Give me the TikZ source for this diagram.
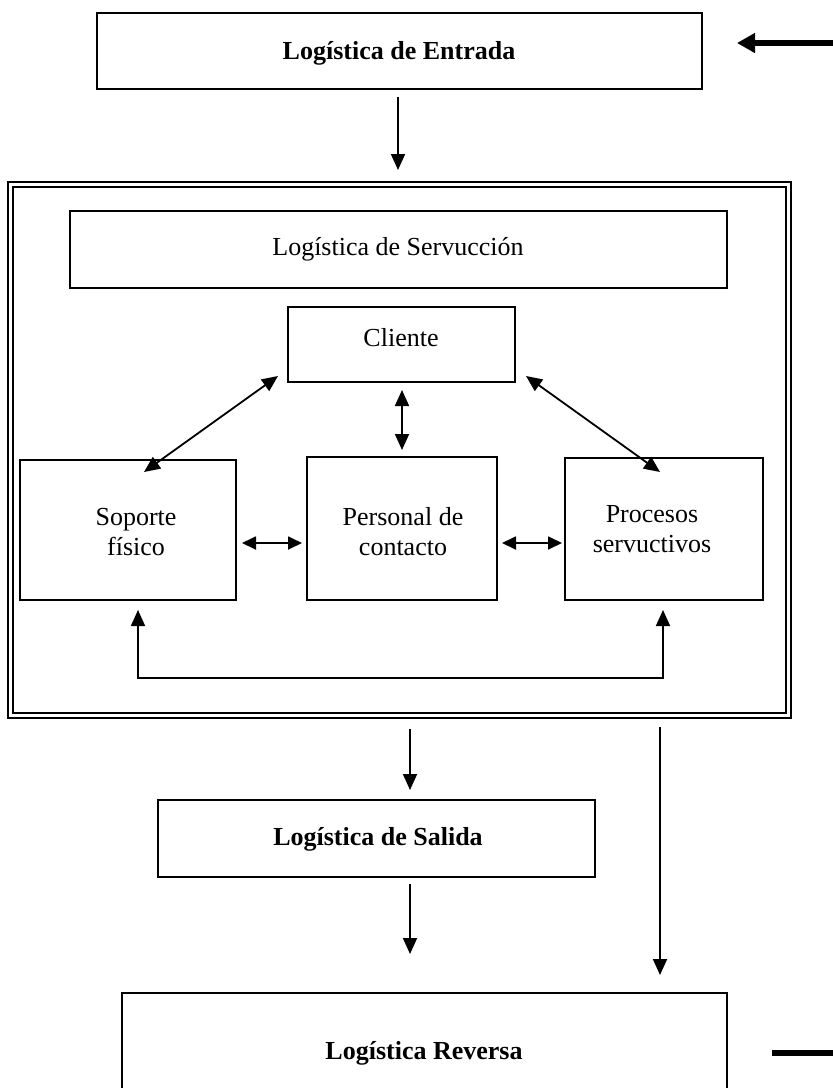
\documentclass[tikz,border=0pt]{standalone}
\usepackage{fontspec}
\setmainfont{Liberation Serif}
\usetikzlibrary{arrows.meta,calc}
\tikzset{
  box/.style={draw, line width=2pt, inner sep=0pt, outer sep=0pt},
  txt/.style={inner sep=0pt, align=center, font=\fontsize{26}{30}\selectfont},
  btxt/.style={txt, font=\fontsize{26}{30}\selectfont\bfseries},
  arr/.style={line width=1.8pt, -{Triangle[length=16pt,width=14pt]}},
  darr/.style={line width=1.8pt, {Triangle[length=16pt,width=14pt]}-{Triangle[length=16pt,width=14pt]}},
  harr/.style={line width=1.8pt, {Triangle[length=14pt,width=13pt]}-{Triangle[length=14pt,width=13pt]}},
  thick arr/.style={line width=5.5pt, -{Triangle[length=18pt,width=19pt]}}
}
\begin{document}
\begin{tikzpicture}[x=1pt,y=-1pt]
  \useasboundingbox (0,0) rectangle (833,1088);
  \clip (0,0) rectangle (833,1088);

  % boxes
  \node[box, minimum width=605pt, minimum height=76pt] (entrada) at (399.5,51) {};
  \node[draw, double, line width=2pt, double distance=3pt, inner sep=0pt, outer sep=0pt,
        minimum width=777.5pt, minimum height=531pt] (frame) at (399.25,450) {};
  \node[box, minimum width=657pt, minimum height=77pt] (servuccion) at (398.5,249.5) {};
  \node[box, minimum width=227pt, minimum height=75pt] (cliente) at (401.5,344.5) {};
  \node[box, minimum width=216pt, minimum height=140pt] (soporte) at (128,530) {};
  \node[box, minimum width=190pt, minimum height=143pt] (personal) at (402,528.5) {};
  \node[box, minimum width=198pt, minimum height=142pt] (procesos) at (664,529) {};
  \node[box, minimum width=437pt, minimum height=77pt] (salida) at (376.5,838.5) {};
  \node[box, minimum width=605pt, minimum height=107pt] (reversa) at (424.5,1046.5) {};

  % labels
  \node[btxt] (t-entrada) at (399,53) {Logística de Entrada};
  \node[txt] (t-servuccion) at (398,249) {Logística de Servucción};
  \node[txt] (t-cliente) at (401,338) {Cliente};
  \node[txt] (t-soporte) at (136,532) {Soporte\\físico};
  \node[txt] (t-personal) at (403,532) {Personal de\\contacto};
  \node[txt] (t-procesos) at (652,529) {Procesos\\servuctivos};
  \node[btxt] (t-salida) at (378,839) {Logística de Salida};
  \node[btxt] (t-reversa) at (424,1053) {Logística Reversa};

  % free ends on the right margin
  \coordinate (in-tail) at (833,43);
  \coordinate (out-tail) at (833,1053);

  % connectors
  \draw[arr] ($(entrada.south)+(-1.5,8)$) -- ($(frame.north)+(-1.25,-14.5)$);
  \draw[darr] ($(cliente.south west)+(-10,-6)$) -- ($(soporte.north west)+(124,12)$);
  \draw[darr] ($(cliente.south east)+(11,-6)$) -- ($(procesos.north west)+(95,14)$);
  \draw[darr] ($(cliente.south)+(0.5,8)$) -- ($(personal.north)+(0,-7)$);
  \draw[harr] ($(soporte.east)+(6,13)$) -- ($(personal.west)+(-5,14.5)$);
  \draw[harr] ($(personal.east)+(5,14.5)$) -- ($(procesos.west)+(-3,14)$);
  \draw[darr] ($(soporte.south)+(10,10)$) -- ($(soporte.south)+(10,78)$)
              -| ($(procesos.south)+(-1,10)$);
  \draw[arr] ($(frame.south)+(10.75,13.5)$) -- ($(salida.north)+(33.5,-10)$);
  \draw[arr] ($(salida.south)+(33.5,7)$) -- ($(reversa.north)+(-14.5,-39)$);
  \draw[arr] ($(frame.south east)+(-128,11.5)$) -- ($(reversa.north east)+(-67,-18)$);
  \draw[thick arr] (in-tail) -- ($(entrada.east)+(35,-8)$);
  \draw[line width=5.5pt] (out-tail) -- ($(reversa.east)+(45,6.5)$);
\end{tikzpicture}
\end{document}
